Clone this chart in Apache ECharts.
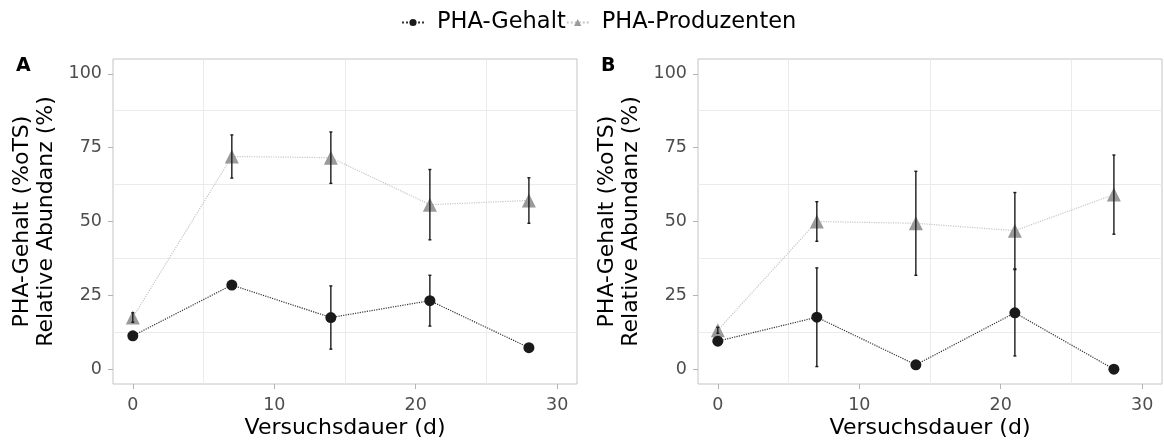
<!DOCTYPE html>
<html>
<head>
<meta charset="utf-8">
<script src="https://cdn.jsdelivr.net/npm/echarts@6/dist/echarts.min.js"></script>
<style>
html,body{margin:0;padding:0;background:#fff}
#main{width:1164px;height:444px}
</style>
</head>
<body>
<div id="main"></div>
<script>
// Versuchstage
var days = [0, 7, 14, 21, 28]

// Panel A
var gehaltA = [11.3, 28.5, 17.5, 23.2, 7.3]
var gehaltA_sd = [0.5, 0.5, 10.7, 8.6, 0.4]
var prodA = [17.5, 72.0, 71.6, 55.7, 57.1]
var prodA_sd = [1.6, 7.3, 8.7, 11.9, 7.7]

// Panel B
var gehaltB = [9.5, 17.6, 1.5, 19.1, 0.0]
var gehaltB_sd = [0.5, 16.7, 0.5, 14.6, 0.3]
var prodB = [13.2, 50.0, 49.4, 46.9, 59.1]
var prodB_sd = [1.0, 6.7, 17.6, 12.9, 13.4]

var xTicks = [0, 10, 20, 30]
var yTicks = [0, 25, 50, 75, 100]
var xGridLines = [5, 15, 25]
var yGridLines = [12.5, 37.5, 62.5, 87.5]

var FONT = 'DejaVu Sans'

function pts(means){
	return days.map(function(d,i){ return [d, means[i]] })
}
function errs(means,sd){
	return days.map(function(d,i){ return [d, means[i]-sd[i], means[i]+sd[i]] })
}

function renderErr(params, api){
	var x = api.value(0)
	var lo = api.coord([x, api.value(1)])
	var hi = api.coord([x, api.value(2)])
	var cap = 1.5
	var st = {stroke:'#1a1a1a', lineWidth:1.4}
	return {
		type:'group',
		children:[
			{type:'line', shape:{x1:lo[0],y1:lo[1],x2:hi[0],y2:hi[1]}, style:st},
			{type:'line', shape:{x1:lo[0]-cap,y1:lo[1],x2:lo[0]+cap,y2:lo[1]}, style:st},
			{type:'line', shape:{x1:hi[0]-cap,y1:hi[1],x2:hi[0]+cap,y2:hi[1]}, style:st}
		]
	}
}

function mainX(gi){
	return {
		type:'value', gridIndex:gi, min:-1.4, max:31.4,
		name:'Versuchsdauer (d)', nameLocation:'middle', nameGap:33, nameMoveOverlap:false,
		nameTextStyle:{fontFamily:FONT, fontSize:22, color:'#000'},
		axisLine:{show:false, onZero:false},
		axisTick:{show:true, length:5, customValues:xTicks, lineStyle:{color:'#b3b3b3'}},
		axisLabel:{customValues:xTicks, margin:12, fontFamily:FONT, fontSize:17.5, color:'#4d4d4d'},
		splitLine:{show:false}
	}
}
function gridX(gi){
	return {
		type:'value', gridIndex:gi, min:-1.4, max:31.4,
		axisLine:{show:false, onZero:false}, axisLabel:{show:false},
		axisTick:{show:false, customValues:xGridLines},
		splitLine:{show:true, lineStyle:{color:'#ebebeb', width:1}}
	}
}
function mainY(gi){
	return {
		type:'value', gridIndex:gi, min:-5, max:105,
		name:'PHA-Gehalt (%oTS)\nRelative Abundanz (%)', nameLocation:'middle', nameGap:55, nameMoveOverlap:false,
		nameTextStyle:{fontFamily:FONT, fontSize:22, color:'#000', lineHeight:24},
		axisLine:{show:false, onZero:false},
		axisTick:{show:true, length:5, customValues:yTicks, lineStyle:{color:'#b3b3b3'}},
		axisLabel:{customValues:yTicks, margin:11, fontFamily:FONT, fontSize:17.5, color:'#4d4d4d'},
		splitLine:{show:false}
	}
}
function gridY(gi){
	return {
		type:'value', gridIndex:gi, min:-5, max:105,
		axisLine:{show:false, onZero:false}, axisLabel:{show:false},
		axisTick:{show:false, customValues:yGridLines},
		splitLine:{show:true, lineStyle:{color:'#ebebeb', width:1}}
	}
}

function gehaltSeries(ax, data){
	return {
		name:'PHA-Gehalt', type:'line', xAxisIndex:ax, yAxisIndex:ax,
		data:pts(data), symbol:'circle', symbolSize:11, z:3,
		itemStyle:{color:'#1a1a1a'},
		lineStyle:{type:'dotted', color:'#333333', width:1.2}
	}
}
function prodSeries(ax, data){
	return {
		name:'PHA-Produzenten', type:'line', xAxisIndex:ax, yAxisIndex:ax,
		data:pts(data), symbol:'triangle', symbolSize:14, z:2,
		itemStyle:{color:'#9a9a9a'},
		lineStyle:{type:'dotted', color:'#c6c6c6', width:1.2}
	}
}
function errSeries(ax, means, sd){
	return {
		type:'custom', xAxisIndex:ax, yAxisIndex:ax, z:5,
		renderItem:renderErr, data:errs(means, sd), silent:true
	}
}

var option = {
	animation:false,
	backgroundColor:'#fff',
	title:[
		{text:'A', left:11, top:52, textStyle:{fontFamily:FONT, fontSize:19, fontWeight:'bold', color:'#000'}},
		{text:'B', left:596, top:52, textStyle:{fontFamily:FONT, fontSize:19, fontWeight:'bold', color:'#000'}}
	],
	legend:{
		top:6, left:396, itemGap:0, itemWidth:22, itemHeight:9,
		textStyle:{fontFamily:FONT, fontSize:22.5, color:'#000', padding:[0,0,0,8]},
		data:['PHA-Gehalt', 'PHA-Produzenten']
	},
	grid:[
		{left:113, top:59, width:464, height:329, show:true, borderColor:'#c4c4c4', borderWidth:1},
		{left:698, top:59, width:464, height:329, show:true, borderColor:'#c4c4c4', borderWidth:1}
	],
	xAxis:[mainX(0), mainX(1), gridX(0), gridX(1)],
	yAxis:[mainY(0), mainY(1), gridY(0), gridY(1)],
	series:[
		prodSeries(0, prodA), gehaltSeries(0, gehaltA),
		errSeries(0, prodA, prodA_sd), errSeries(0, gehaltA, gehaltA_sd),
		prodSeries(1, prodB), gehaltSeries(1, gehaltB),
		errSeries(1, prodB, prodB_sd), errSeries(1, gehaltB, gehaltB_sd)
	]
}

var myChart = echarts.init(document.getElementById('main'))
myChart.setOption(option)
</script>
</body>
</html>
